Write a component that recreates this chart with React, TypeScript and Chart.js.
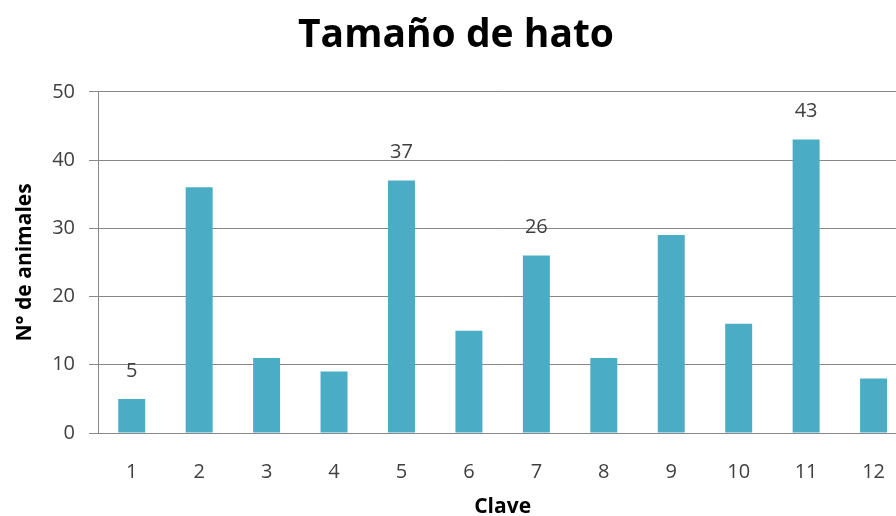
import React, { useEffect, useRef } from "react";
import { Chart, registerables } from "chart.js";

Chart.register(...registerables);

const categories = ["1", "2", "3", "4", "5", "6", "7", "8", "9", "10", "11", "12"];
const values = [5, 36, 11, 9, 37, 15, 26, 11, 29, 16, 43, 8];
const shownLabels: (number | null)[] = [5, null, null, null, 37, null, 26, null, null, null, 43, null];
const yTicks = [0, 10, 20, 30, 40, 50];

const FONT = "'Open Sans', 'DejaVu Sans', sans-serif";
const TEXT = "#404040";
const GRID = "#888888";

const labelPlugin = {
  id: "valueLabels",
  afterDatasetsDraw(chart: any) {
    const meta = chart.getDatasetMeta(0);
    const ctx = chart.ctx;
    ctx.save();
    ctx.fillStyle = TEXT;
    ctx.font = `20px ${FONT}`;
    ctx.textAlign = "center";
    ctx.textBaseline = "middle";
    meta.data.forEach((bar: any, i: number) => {
      const v = shownLabels[i];
      if (v === null || v === undefined) return;
      ctx.fillText(String(v), bar.x, bar.y - 28);
    });
    ctx.restore();
  },
};

export default function App() {
  const ref = useRef<HTMLCanvasElement | null>(null);

  useEffect(() => {
    if (!ref.current) return;
    const chart = new Chart(ref.current, {
      type: "bar",
      data: {
        labels: categories,
        datasets: [
          {
            data: values,
            backgroundColor: "#4BACC6",
            borderWidth: 0,
            categoryPercentage: 1,
            barPercentage: 0.4,
          },
        ],
      },
      options: {
        responsive: false,
        animation: false,
        layout: { padding: { left: 0, right: 0, top: 0, bottom: 0 } },
        plugins: {
          legend: { display: false },
          tooltip: { enabled: false },
          title: {
            display: true,
            text: "Tamaño de hato",
            color: "#000000",
            font: { family: FONT, size: 39, weight: "bold" },
            padding: { top: 12, bottom: 33 },
          },
        },
        scales: {
          x: {
            grid: { display: false, drawTicks: false },
            border: { display: true, color: GRID, width: 1 },
            ticks: { color: TEXT, font: { family: FONT, size: 20 }, padding: 27 },
            title: {
              display: true,
              text: "Clave",
              color: "#000000",
              font: { family: FONT, size: 21, weight: "bold", lineHeight: 0.9 },
              padding: { top: 4, bottom: 0 },
            },
            afterFit: (scale: any) => {
              scale.height = 516 - 433;
            },
          },
          y: {
            min: 0,
            max: 50,
            afterBuildTicks: (scale: any) => {
              scale.ticks = yTicks.map((v) => ({ value: v }));
            },
            grid: { color: GRID, lineWidth: 1, tickLength: 9, drawTicks: true },
            border: { display: true, color: GRID, width: 1 },
            ticks: { color: TEXT, font: { family: FONT, size: 20 }, padding: 14 },
            title: {
              display: true,
              text: "N° de animales",
              color: "#000000",
              font: { family: FONT, size: 21, weight: "bold" },
              padding: { top: 12, bottom: 4 },
            },
            afterFit: (scale: any) => {
              scale.width = 98;
            },
          },
        },
      },
      plugins: [labelPlugin],
    });
    return () => chart.destroy();
  }, []);

  return (
    <div
      style={{
        position: "fixed",
        left: 0,
        top: 0,
        width: 896,
        height: 516,
        overflow: "hidden",
        background: "#ffffff",
      }}
    >
      <canvas ref={ref} width={912} height={516} style={{ display: "block" }} />
    </div>
  );
}
